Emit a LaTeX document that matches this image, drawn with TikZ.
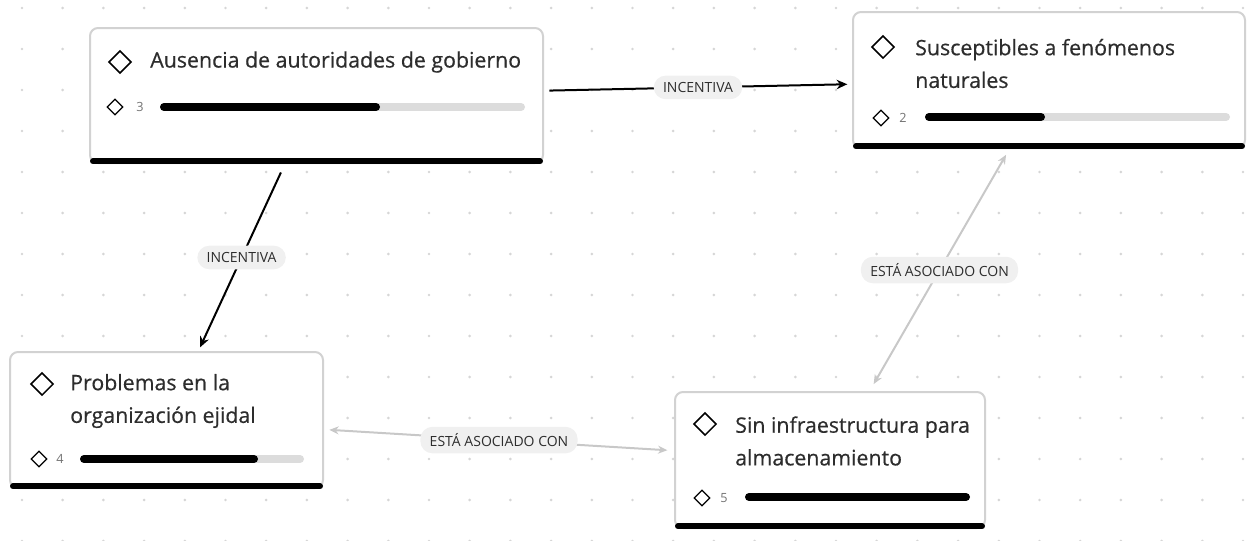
\documentclass[tikz,border=0pt]{standalone}
\usepackage{fontspec}
\setmainfont{Open Sans}
\newfontfamily\titlefont{Open Sans}[FakeBold=0.5]
\usetikzlibrary{shapes.geometric,arrows.meta}
\definecolor{inkgray}{RGB}{45,45,45}
\definecolor{rimgray}{RGB}{210,210,210}
\definecolor{trackgray}{RGB}{220,220,220}
\definecolor{linkgray}{RGB}{200,200,200}
\definecolor{pillgray}{RGB}{240,240,240}
\definecolor{dotgray}{RGB}{214,214,214}

\begin{document}
\begin{tikzpicture}[x=0.75pt,y=0.75pt,yscale=-1,xscale=1,
	card/.style={draw=rimgray,line width=1.5pt,fill=white,rounded corners=6pt,inner sep=0pt},
	cardbase/.style={line width=4.5pt,line cap=round},
	title/.style={text=inkgray,font=\titlefont\fontsize{16}{24.5}\selectfont,align=left,inner sep=0pt,anchor=west},
	bigmark/.style={diamond,draw=black,line width=1.1pt,minimum size=17pt,inner sep=0pt},
	smallmark/.style={diamond,draw=black,line width=1pt,minimum size=12pt,inner sep=0pt},
	count/.style={text=black!55,font=\fontsize{9.5}{10}\selectfont,inner sep=0pt},
	track/.style={trackgray,line width=6pt,line cap=round},
	meter/.style={black,line width=6pt,line cap=round},
	tag/.style={fill=pillgray,text=inkgray,font=\fontsize{10.5}{11}\selectfont,rounded corners=9pt,inner xsep=7pt,inner ysep=5pt},
	dark/.style={-{Stealth[length=8pt,width=7pt]},line width=1.5pt},
	light/.style={{Stealth[length=7pt,width=6pt]}-{Stealth[length=7pt,width=6pt]},draw=linkgray,line width=1.5pt}
	]
	\useasboundingbox (0,0) rectangle (1247,540);
	% dot grid
	\foreach \i in {0,...,30}
		\foreach \j in {0,...,13}
			\fill[dotgray] (22+40.7*\i,8+41*\j) circle (1.1pt);

	% cards
	\node (aus) [card,minimum width=339.75pt,minimum height=101.25pt] at (316.5,95.5) {};
	\node (sus) [card,minimum width=294pt,minimum height=102pt] at (1049,80) {};
	\node (eji) [card,minimum width=234.75pt,minimum height=102pt] at (166.5,420) {};
	\node (alm) [card,minimum width=232.5pt,minimum height=102pt] at (830,460) {};
	\foreach \c in {aus,sus,eji,alm}
		\draw[cardbase] ([xshift=3pt,yshift=-2pt]\c.south west) -- ([xshift=-3pt,yshift=-2pt]\c.south east);

	% Ausencia
	\node (ausM) [bigmark] at (120,62) {};
	\node (ausT) [title] at (150,62) {Ausencia de autoridades de gobierno};
	\node (ausS) [smallmark] at (115,107) {};
	\node (ausN) [count] at (140,107) {3};
	\draw[track] (164,107) -- (521,107);
	\draw[meter] (164,107) -- (376,107);

	% Susceptibles
	\node (susM) [bigmark] at (883,47) {};
	\node (susT) [title] at (915,63.5) {Susceptibles a fenómenos\\naturales};
	\node (susS) [smallmark] at (881,118) {};
	\node (susN) [count] at (903,118) {2};
	\draw[track] (929,117) -- (1226,117);
	\draw[meter] (929,117) -- (1041,117);

	% Problemas
	\node (ejiM) [bigmark] at (42,384) {};
	\node (ejiT) [title] at (70,401) {Problemas en la\\organización ejidal};
	\node (ejiS) [smallmark] at (39,459) {};
	\node (ejiN) [count] at (60,459) {4};
	\draw[track] (84,459) -- (300,459);
	\draw[meter] (84,459) -- (254,459);

	% Sin infraestructura
	\node (almM) [bigmark] at (705,424) {};
	\node (almT) [title] at (735,441) {Sin infraestructura para\\almacenamiento};
	\node (almS) [smallmark] at (702,498) {};
	\node (almN) [count] at (724,498) {5};
	\draw[meter] (749,497) -- (966,497);

	% links
	\draw[dark,shorten <=4pt,shorten >=3.5pt] (aus) -- node[tag] (l1) {INCENTIVA} (sus);
	\draw[dark,shorten <=7pt,shorten >=3pt] (aus) -- node[tag] (l2) {INCENTIVA} (eji);
	\draw[light,shorten <=6pt,shorten >=5pt] (alm) -- node[tag] (l3) {ESTÁ ASOCIADO CON} (sus);
	\draw[light,shorten <=4pt,shorten >=5pt] (eji) -- node[tag] (l4) {ESTÁ ASOCIADO CON} (alm);
\end{tikzpicture}
\end{document}
